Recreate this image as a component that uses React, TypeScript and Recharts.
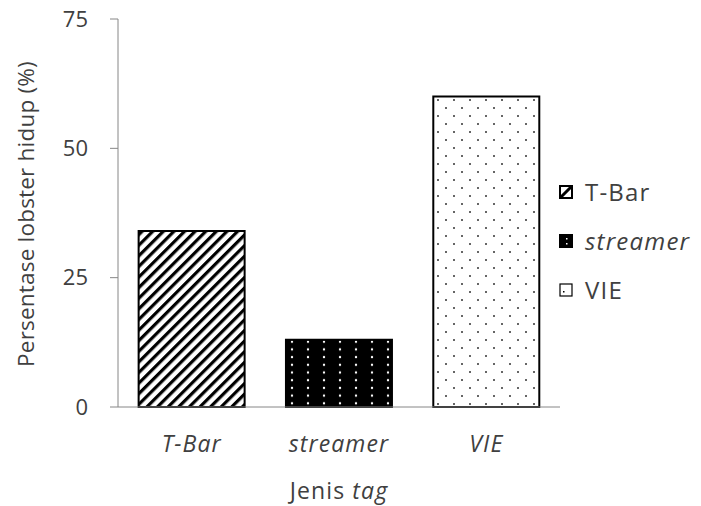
import React from 'react'
import { Bar, BarChart, Cell, Legend, XAxis, YAxis } from 'recharts'

// categories and survival percentages
const categories = ['T-Bar', 'streamer', 'VIE']
const survival = [34, 13, 60]
const yTicks = [0, 25, 50, 75]
const legendLabels = ['T-Bar', 'streamer', 'VIE']
const italicLegend = [false, true, false]

const patternIds = ['hatch', 'darkdots', 'lightdots']

const data = categories.map((name, i) => ({ name, value: survival[i] }))

const FONT = '"Open Sans", sans-serif'
const TEXT = '#404040'
const AXIS = '#868686'

const Patterns = () => (
  <defs>
    <pattern id='hatch' patternUnits='userSpaceOnUse' width={7.5} height={7.5} patternTransform='rotate(45)'>
      <rect width={7.5} height={7.5} fill='#fff' />
      <rect width={3.2} height={7.5} fill='#000' />
    </pattern>
    <pattern id='darkdots' patternUnits='userSpaceOnUse' width={16} height={7.7}>
      <rect width={16} height={7.7} fill='#000' />
      <circle cx={4} cy={3} r={1.2} fill='#fff' />
    </pattern>
    <pattern id='lightdots' patternUnits='userSpaceOnUse' width={16} height={16}>
      <rect width={16} height={16} fill='#fff' />
      <circle cx={6} cy={4} r={1} fill='#333' />
      <circle cx={14} cy={12} r={1} fill='#333' />
    </pattern>
  </defs>
)

const LegendContent = () => (
  <div style={{ fontFamily: FONT, fontSize: 24, letterSpacing: 1.2, color: TEXT }}>
    {legendLabels.map((label, i) => (
      <div key={label} style={{ display: 'flex', alignItems: 'center', height: 49 }}>
        <svg width={14} height={14} style={{ marginRight: 12 }}>
          {i === 0 && (
            <g>
              <rect x={1} y={1} width={12} height={12} fill='#fff' stroke='#000' strokeWidth={2} />
              <line x1={2} y1={12} x2={12} y2={2} stroke='#000' strokeWidth={3} />
            </g>
          )}
          {i === 1 && <g>
            <rect x={1} y={1} width={12} height={12} fill='#000' stroke='#000' strokeWidth={2} />
            <rect x={7} y={4} width={1.5} height={1.5} fill='#fff' />
            <rect x={7} y={9} width={1.5} height={1.5} fill='#fff' />
          </g>}
          {i === 2 && <g>
            <rect x={1} y={1} width={12} height={12} fill='#fff' stroke='#000' strokeWidth={1.2} />
            <rect x={4} y={8} width={1.5} height={1.5} fill='#000' />
          </g>}
        </svg>
        <span style={{ fontStyle: italicLegend[i] ? 'italic' : 'normal' }}>{label}</span>
      </div>
    ))}
  </div>
)

const XTitle = (props: any) => {
  const { viewBox } = props
  return (
    <text
      x={viewBox.x + viewBox.width / 2}
      y={499}
      textAnchor='middle'
      fontFamily={FONT}
      fontSize={23}
      letterSpacing={1.1}
      fill={TEXT}
    >
      Jenis <tspan fontStyle='italic'>tag</tspan>
    </text>
  )
}

const YTitle = () => (
  <text
    x={0}
    y={0}
    transform='translate(34, 214) rotate(-90)'
    textAnchor='middle'
    fontFamily={FONT}
    fontSize={22.5}
    letterSpacing={0.2}
    fill={TEXT}
  >
    Persentase lobster hidup (%)
  </text>
)

export default function App() {
  return (
    <div>
      <style>{'body{margin:0}'}</style>
      <BarChart
        width={701}
        height={506}
        data={data}
        margin={{ top: 19, right: 141, bottom: 0, left: 0 }}
        barCategoryGap='14%'
      >
        <Patterns />
        <XAxis
          dataKey='name'
          height={99}
          stroke={AXIS}
          tickLine={false}
          tickSize={0}
          tickMargin={29}
          tick={{ fontFamily: FONT, fontSize: 23, fill: TEXT, fontStyle: 'italic', letterSpacing: 1.1 }}
          label={{ content: <XTitle /> }}
        />
        <YAxis
          width={118}
          domain={[0, 75]}
          ticks={yTicks}
          stroke={AXIS}
          tickSize={8}
          tickMargin={22}
          tick={{ fontFamily: FONT, fontSize: 22, fill: TEXT }}
          label={{ content: <YTitle /> }}
        />
        <Legend
          layout='vertical'
          align='center'
          verticalAlign='middle'
          content={<LegendContent />}
          wrapperStyle={{ position: 'absolute', left: 559, top: 167, width: 142 }}
        />
        <Bar dataKey='value' stroke='#000' strokeWidth={2} isAnimationActive={false}>
          {data.map((d, i) => (
            <Cell key={d.name} fill={`url(#${patternIds[i]})`} />
          ))}
        </Bar>
      </BarChart>
    </div>
  )
}
